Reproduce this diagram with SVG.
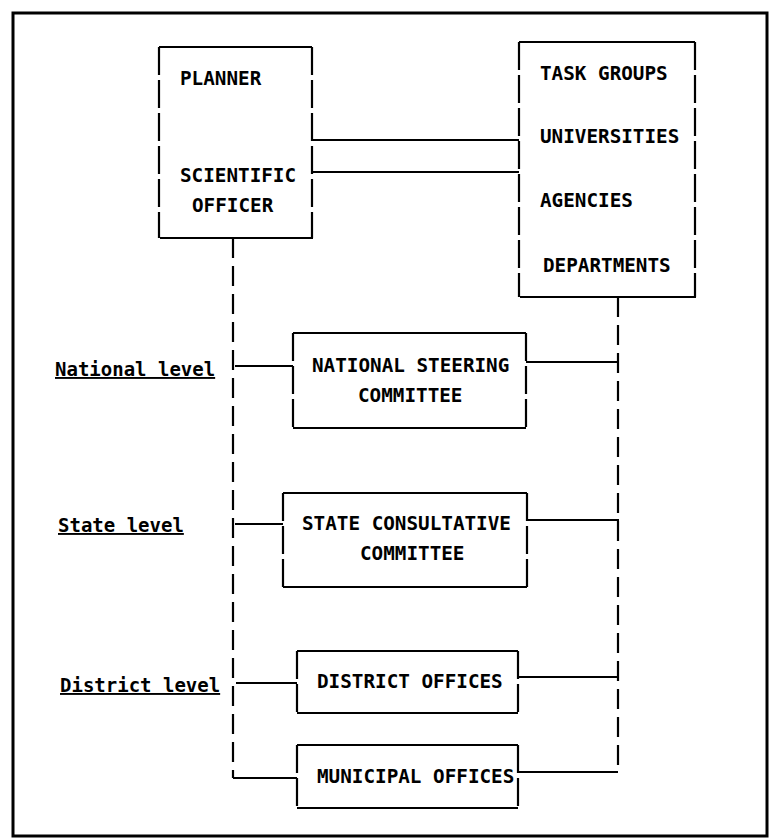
<svg xmlns="http://www.w3.org/2000/svg" width="769" height="839" viewBox="0 0 769 839">
<style>
.frame{fill:none;stroke:#000;stroke-width:3}
.edge{fill:none;stroke:#000;stroke-width:2.2}
.side{fill:none;stroke:#000;stroke-width:2.2;stroke-dasharray:28 5}
.vline{fill:none;stroke:#000;stroke-width:2.2;stroke-dasharray:20 8}
.conn{fill:none;stroke:#000;stroke-width:2}
.t{font-family:"DejaVu Sans Mono","Liberation Mono",monospace;font-weight:bold;font-size:19.3px;fill:#000}
.lvl{font-family:"DejaVu Sans Mono","Liberation Mono",monospace;font-weight:bold;font-size:19px;fill:#000;text-decoration:underline}
</style>
<rect width="769" height="839" fill="#fff"/>
<rect class="frame" x="13" y="13" width="754" height="823"/>

<g id="planner">
<path class="edge" d="M159 47H312M160 238H313"/>
<path class="side" d="M159 47V238M312 47V238"/>
<text class="t" x="180" y="85">PLANNER</text>
<text class="t" x="180" y="182">SCIENTIFIC</text>
<text class="t" x="192" y="212">OFFICER</text>
</g>

<g id="groups">
<path class="edge" d="M519 42H695M520 297H696"/>
<path class="side" d="M519 42V297M695 42V297"/>
<text class="t" x="540" y="80">TASK GROUPS</text>
<text class="t" x="540" y="143">UNIVERSITIES</text>
<text class="t" x="540" y="207">AGENCIES</text>
<text class="t" x="543" y="272">DEPARTMENTS</text>
</g>

<g id="national">
<path class="edge" d="M293 333H526M293 428H526"/>
<path class="side" d="M293 333V428M526 333V428"/>
<text class="t" x="312" y="372">NATIONAL STEERING</text>
<text class="t" x="358" y="402">COMMITTEE</text>
</g>

<g id="state">
<path class="edge" d="M283 493H527M283 587H527"/>
<path class="side" d="M283 493V587M527 493V587"/>
<text class="t" x="302" y="530">STATE CONSULTATIVE</text>
<text class="t" x="360" y="560">COMMITTEE</text>
</g>

<g id="district">
<path class="edge" d="M297 651H518M297 713H518"/>
<path class="side" d="M297 651V713M518 651V713"/>
<text class="t" x="317" y="688">DISTRICT OFFICES</text>
</g>

<g id="municipal">
<path class="edge" d="M297 745H518M297 808H518"/>
<path class="side" d="M297 745V808M518 745V808"/>
<text class="t" x="317" y="783">MUNICIPAL OFFICES</text>
</g>

<g id="labels">
<text class="lvl" x="55" y="376">National level</text>
<text class="lvl" x="58" y="532">State level</text>
<text class="lvl" x="60" y="692">District level</text>
</g>

<g id="connectors">
<path class="conn" d="M312 140H519M312 172H519"/>
<path class="vline" d="M233 238V778"/>
<path class="conn" d="M233 778H297"/>
<path class="vline" d="M618 297V772"/>
<path class="conn" d="M518 772H618"/>
<path class="conn" d="M235 366H293M526 362H618"/>
<path class="conn" d="M235 524H283M527 520H619"/>
<path class="conn" d="M236 683H297M518 677H619"/>
</g>
</svg>
